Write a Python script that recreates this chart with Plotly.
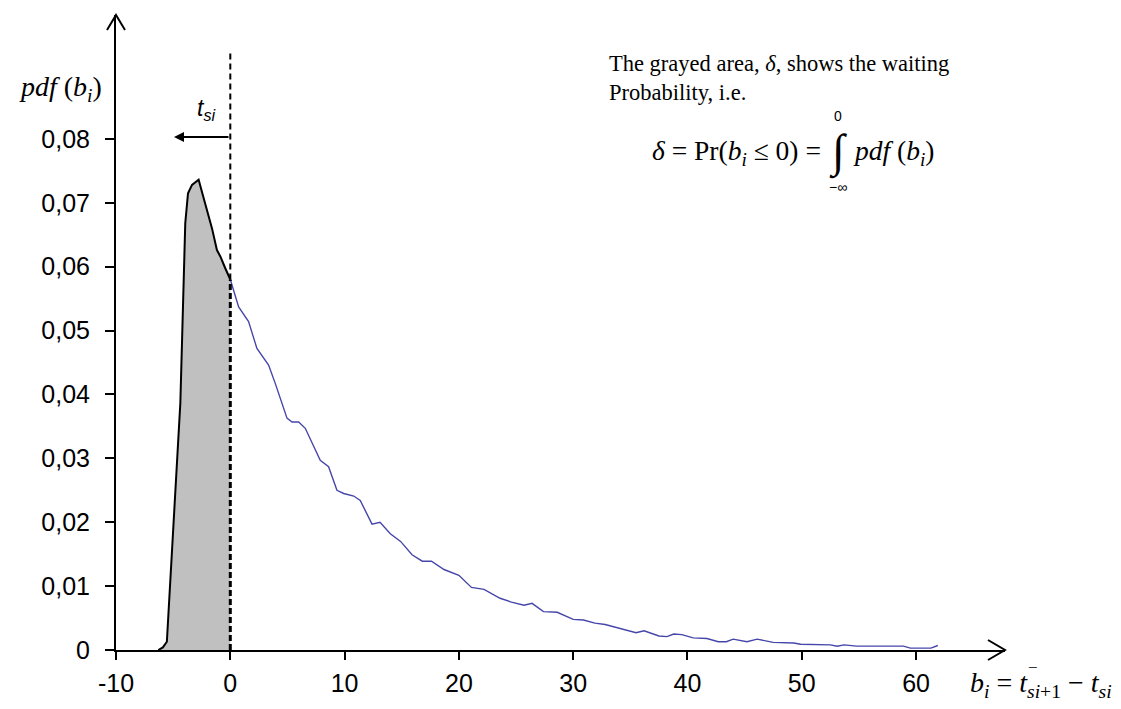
import plotly.graph_objects as go

# ---------------- data ----------------
# grey (waiting) part of the pdf, b_i <= 0
x_gray = [-6.3, -5.9, -5.55, -5.1, -4.7, -4.37, -3.94, -3.7, -3.35, -2.77,
          -2.4, -2.04, -1.6, -1.17, -0.87, -0.45, 0.0]
y_gray = [0.0, 0.0004, 0.0013, 0.0149, 0.027, 0.0387, 0.0668, 0.0715, 0.0728, 0.0736,
          0.0712, 0.0689, 0.066, 0.0626, 0.0616, 0.0598, 0.058]

# tail of the pdf, b_i > 0
x_tail = [0.0, 0.73, 1.6, 2.33, 3.35, 3.94, 4.96, 5.4, 5.98, 6.56, 7.87, 8.6, 9.33,
          9.92, 10.8, 11.37, 12.4, 13.1, 14.0, 14.9, 15.9, 16.8, 17.6, 18.7, 20.0,
          21.1, 22.2, 23.6, 24.6, 25.7, 26.4, 27.4, 28.6, 30.0, 30.9, 31.9, 32.8,
          33.8, 34.4, 35.5, 36.2, 37.5, 38.2, 38.8, 39.5, 40.5, 41.7, 42.7, 43.4,
          44.0, 45.2, 46.1, 47.5, 49.3, 49.9, 52.5, 53.1, 53.7, 54.8, 58.9, 59.5,
          61.3, 61.9]
y_tail = [0.058, 0.0537, 0.0514, 0.0472, 0.0446, 0.0417, 0.0363, 0.0357, 0.0357,
          0.0347, 0.0297, 0.0287, 0.0250, 0.0245, 0.0241, 0.0234, 0.0197, 0.0200,
          0.0182, 0.0170, 0.0149, 0.0139, 0.0139, 0.0126, 0.0117, 0.0098, 0.0095,
          0.0081, 0.0075, 0.0070, 0.0073, 0.0060, 0.0059, 0.0048, 0.0047, 0.0042,
          0.0040, 0.0035, 0.0033, 0.0027, 0.0030, 0.0022, 0.0021, 0.0025, 0.0024,
          0.0019, 0.0018, 0.0013, 0.0013, 0.0017, 0.0013, 0.0017, 0.0012, 0.0011,
          0.0009, 0.0008, 0.0006, 0.0008, 0.0006, 0.0006, 0.0003, 0.0003, 0.0007]

x_tickvals = [-10, 0, 10, 20, 30, 40, 50, 60]
x_ticktext = ["-10", "0", "10", "20", "30", "40", "50", "60"]
y_tickvals = [0, 0.01, 0.02, 0.03, 0.04, 0.05, 0.06, 0.07, 0.08]
y_ticktext = ["0", "0,01", "0,02", "0,03", "0,04", "0,05", "0,06", "0,07", "0,08"]

# ---------------- layout geometry ----------------
W, H = 1121, 709
L, R, T, B = 116, 116, 15, 59
PW, PH = W - L - R, H - T - B
X_RANGE = [-10, 67.78]
Y_RANGE = [0, 0.0994]


def px(xp):
    return (xp - L) / PW


def py(yp):
    return (H - B - yp) / PH


SERIF = "Liberation Serif, Times New Roman, serif"
SANS = "Liberation Sans, Arial, sans-serif"

fig = go.Figure()

fig.add_trace(go.Scatter(
    x=x_gray, y=y_gray, mode="lines", fill="tozeroy",
    fillcolor="#C0C0C0", line=dict(color="black", width=2),
    hoverinfo="skip", showlegend=False))

fig.add_trace(go.Scatter(
    x=x_tail, y=y_tail, mode="lines",
    line=dict(color="#4646AA", width=1.4),
    hoverinfo="skip", showlegend=False))

# vertical dashed line at b_i = 0
fig.add_shape(type="line", xref="x", yref="y", x0=0, x1=0, y0=0, y1=y_gray[-1],
              line=dict(color="black", width=3, dash="6px,3px"))
fig.add_shape(type="line", xref="x", yref="y", x0=0, x1=0, y0=y_gray[-1],
              y1=(H - B - 53) / PH * Y_RANGE[1],
              line=dict(color="black", width=2, dash="6px,4px"))

# open arrowheads at the ends of the axes
fig.add_shape(type="path", xref="paper", yref="paper", xsizemode="pixel",
              ysizemode="pixel", xanchor=1, yanchor=0,
              path="M -17,10 L 0,0 L -17,-10", line=dict(color="black", width=2))
fig.add_shape(type="path", xref="paper", yref="paper", xsizemode="pixel",
              ysizemode="pixel", xanchor=0, yanchor=1,
              path="M -9,-15 L 0,0 L 9,-15", line=dict(color="black", width=2))

ann = []
# y-axis title
ann.append(dict(text="<i>pdf</i> (<i>b</i><sub><i>i</i></sub>)", x=px(60), y=py(88),
                xanchor="center", yanchor="middle",
                font=dict(family=SERIF, size=28, color="black")))
# t_si label and arrow
ann.append(dict(text="<i>t</i><sub><i>si</i></sub>", x=px(206), y=py(110),
                xanchor="center", yanchor="middle",
                font=dict(family=SANS, size=23, color="black")))
ann.append(dict(text="", x=px(174), y=py(137), ax=56, ay=0, showarrow=True,
                arrowhead=2, arrowsize=1, arrowwidth=2, arrowcolor="black"))
# explanatory text
ann.append(dict(text="The grayed area, <i>δ</i>, shows the waiting<br>Probability, i.e.",
                x=px(607), y=py(49), xanchor="left", yanchor="top", align="left",
                font=dict(family=SERIF, size=22.5, color="black")))
# formula
ann.append(dict(text="<i>δ</i> = Pr(<i>b</i><sub><i>i</i></sub> ≤ 0) =",
                x=px(823), y=py(153), xanchor="right", yanchor="middle",
                font=dict(family=SERIF, size=27.5, color="black")))
ann.append(dict(text="∫", x=px(838), y=py(152), xanchor="center", yanchor="middle",
                font=dict(family=SERIF, size=46, color="black")))
ann.append(dict(text="0", x=px(838), y=py(116), xanchor="center", yanchor="middle",
                font=dict(family=SANS, size=14, color="black")))
ann.append(dict(text="−∞", x=px(838), y=py(187), xanchor="center", yanchor="middle",
                font=dict(family=SANS, size=14, color="black")))
ann.append(dict(text="<i>pdf</i> (<i>b</i><sub><i>i</i></sub>)",
                x=px(851), y=py(153), xanchor="left", yanchor="middle",
                font=dict(family=SERIF, size=27.5, color="black")))
# x-axis title
ann.append(dict(text="<i>b</i><sub><i>i</i></sub>&nbsp;= <i>t</i><sub><i>si</i>+1</sub> − <i>t</i><sub><i>si</i></sub>",
                x=px(968), y=py(684), xanchor="left", yanchor="middle",
                font=dict(family=SERIF, size=28, color="black")))
ann.append(dict(text="−", x=px(1033), y=py(667), xanchor="center", yanchor="middle",
                font=dict(family=SERIF, size=17, color="black")))

for a in ann:
    a.setdefault("xref", "paper")
    a.setdefault("yref", "paper")
    a.setdefault("showarrow", False)

fig.update_layout(
    width=W, height=H,
    margin=dict(l=L, r=R, t=T, b=B, pad=0),
    paper_bgcolor="white", plot_bgcolor="white",
    showlegend=False,
    annotations=ann,
    xaxis=dict(range=X_RANGE, showgrid=False, zeroline=False, showline=True,
               linecolor="black", linewidth=2, ticks="outside", ticklen=8,
               tickwidth=1.5, tickcolor="black", tickvals=x_tickvals,
               ticktext=x_ticktext, automargin=False, ticklabelstandoff=2,
               tickfont=dict(family=SANS, size=25, color="black")),
    yaxis=dict(range=Y_RANGE, showgrid=False, zeroline=False, showline=True,
               linecolor="black", linewidth=2, ticks="outside", ticklen=9,
               tickwidth=1.5, tickcolor="black", tickvals=y_tickvals,
               ticktext=y_ticktext, automargin=False, ticklabelstandoff=10,
               tickfont=dict(family=SANS, size=25, color="black")),
)

fig.write_html("out.html")
